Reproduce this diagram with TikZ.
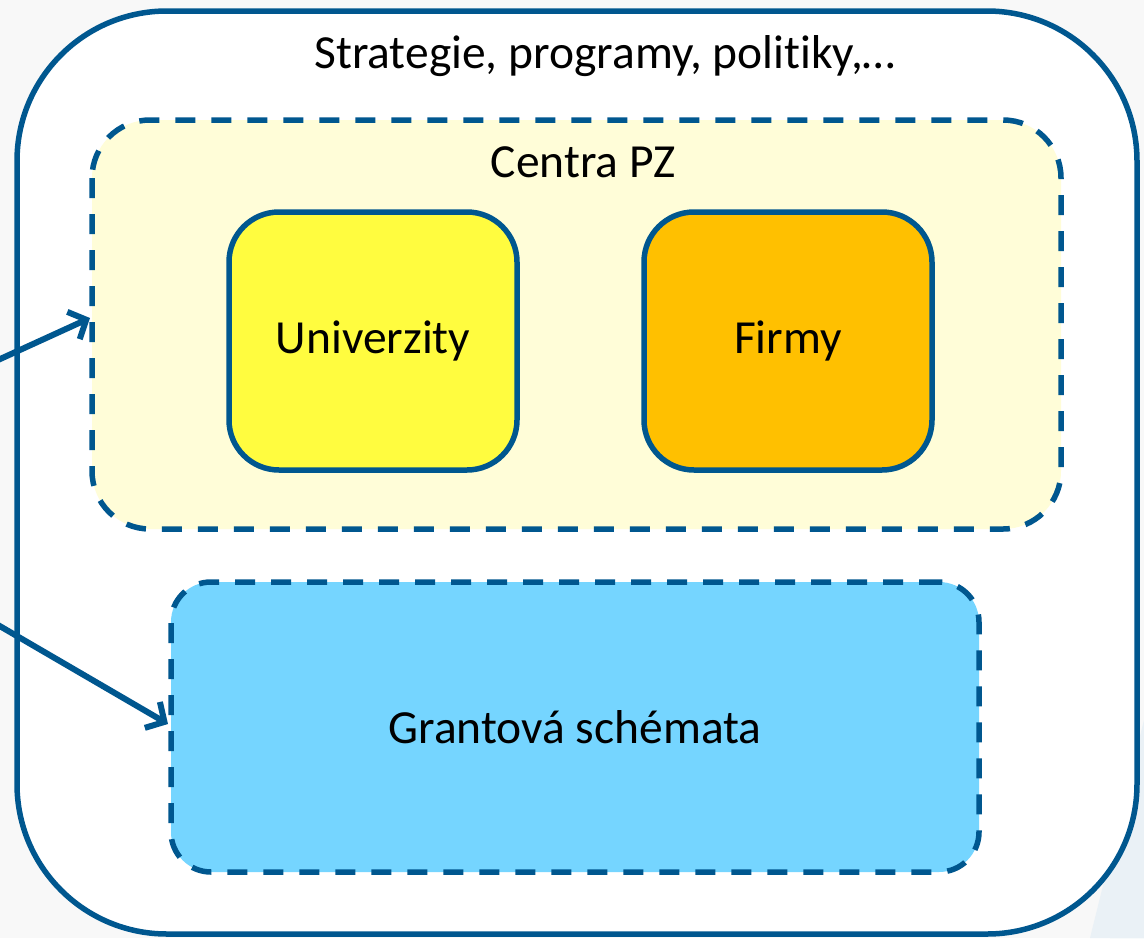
\documentclass[tikz,border=0pt]{standalone}
\usepackage{fontspec}
\setmainfont{Carlito}[Ligatures=NoCommon]
\usetikzlibrary{arrows.meta}
\definecolor{dblue}{HTML}{00578F}
\definecolor{lyel}{HTML}{FFFDD8}
\definecolor{uyel}{HTML}{FFFC3F}
\definecolor{forange}{HTML}{FFC000}
\definecolor{gblue}{HTML}{75D5FF}
\definecolor{bgrey}{HTML}{F8F8F8}
\definecolor{faint}{HTML}{DCE7F0}
\tikzset{
  box/.style={draw=dblue, line width=5.5pt, rounded corners=#1},
  dbox/.style={draw=dblue, line width=5.5pt, rounded corners=#1, dash pattern=on 20pt off 16pt},
  lbl/.style={font=\fontsize{47.5}{54}\selectfont, text=black, inner sep=0pt},
  conn/.style={draw=dblue, line width=6pt, -{Straight Barb[length=14pt,width=30pt,line width=6pt]}}
}
\begin{document}
\begin{tikzpicture}[x=1pt,y=-1pt]
\useasboundingbox (0,0) rectangle (1144,938);
\fill[bgrey] (0,0) rectangle (1144,938);
\fill[faint] (1144,600) -- (1144,938) -- (1110,938) -- (1144,800) -- cycle;
\fill[faint!60] (1144,720) -- (1144,938) -- (1090,938) -- cycle;
% outer box
\draw[box=150pt, fill=white] (17,11) rectangle (1137,934);
\node[lbl] (title) at (605,56) {Strategie, programy, polit\kern0pt iky,…};
% centra
\draw[dbox=58pt, fill=lyel] (92,120) rectangle (1061,529);
\node[lbl] (centra) at (583,162) {Centra PZ};
\node[box=50pt, fill=uyel, minimum width=288pt, minimum height=258pt, lbl, draw=dblue, line width=5.5pt] (uni) at (373,341) {Univerzity};
\node[box=50pt, fill=forange, minimum width=288pt, minimum height=258pt, lbl, draw=dblue, line width=5.5pt] (firmy) at (788,341) {Firmy};
\node[dbox=40pt, fill=gblue, minimum width=808pt, minimum height=290pt, lbl, draw=dblue, line width=5.5pt] (grant) at (575,727) {Grantová schémata};
\coordinate (c1) at (90,318);
\coordinate (c2) at (168,724);
\coordinate (s1) at (-2,360);
\coordinate (s2) at (-2,625);
\draw[conn] (s1) -- (c1);
\draw[conn] (s2) -- (c2);
\end{tikzpicture}
\end{document}
